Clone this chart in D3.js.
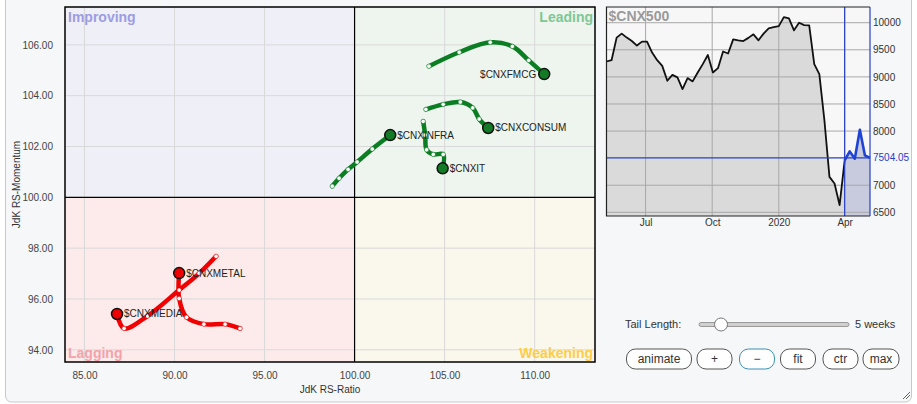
<!DOCTYPE html>
<html><head><meta charset="utf-8">
<script src="https://cdn.jsdelivr.net/npm/d3@7"></script>
<style>
html,body{margin:0;padding:0;background:#fff;}
svg{display:block;font-family:"Liberation Sans",Arial,sans-serif;}
</style></head>
<body>
<svg id="c" width="917" height="404"></svg>
<script>
// ---------- DATA ----------
const xTicks = [85, 90, 95, 100, 105, 110];
const yTicks = [94, 96, 98, 100, 102, 104, 106];
const quadrantNames = ["Improving", "Leading", "Lagging", "Weakening"];

const symbols = ["$CNXFMCG", "$CNXCONSUM", "$CNXINFRA", "$CNXIT", "$CNXMETAL", "$CNXMEDIA"];
const symbolColors = ["green", "green", "green", "green", "red", "red"];
const fmcgRatio = [104.13, 105.81, 107.53, 108.76, 109.67, 110.53];
const fmcgMom   = [105.16, 105.71, 106.10, 105.94, 105.39, 104.85];
const consumRatio = [103.96, 104.92, 105.87, 106.56, 106.92, 107.42];
const consumMom   = [103.46, 103.66, 103.75, 103.52, 103.08, 102.73];
const infraRatio = [98.76, 99.14, 99.64, 100.14, 100.98, 101.98];
const infraMom   = [100.44, 100.75, 101.10, 101.39, 101.90, 102.45];
const itRatio = [103.81, 103.92, 104.00, 104.37, 104.92, 104.89];
const itMom   = [102.99, 102.45, 101.87, 101.69, 101.69, 101.14];
const metalRatio = [93.64, 92.81, 91.63, 90.67, 90.26, 90.26];
const metalMom   = [94.84, 95.01, 95.01, 95.28, 96.02, 97.02];
const mediaRatio = [92.31, 91.37, 90.26, 88.50, 87.20, 86.81];
const mediaMom   = [97.68, 97.01, 96.35, 95.33, 94.84, 95.41];

const benchName = "$CNX500";
const benchStart = "2019-05-08";
const benchValues = [9284, 9308, 9725, 9798, 9725, 9662, 9578, 9651, 9651, 9449,
  9308, 9203, 8928, 9038, 8990, 8776, 8978, 8917, 9082, 9235,
  9405, 9082, 9161, 9468, 9431, 9693, 9675, 9662, 9720, 9785,
  9675, 9798, 9895, 9919, 9938, 10103, 10079, 9859, 10000, 9956,
  9950, 9235, 9051, 8200, 7155, 7032, 6634, 7460, 7625, 7490,
  8023, 7551, 7504.05];
const benchYTicks = [6500, 7000, 8000, 8500, 9000, 9500, 10000];
const benchXTickDates = ["2019-07-01", "2019-10-01", "2020-01-01", "2020-04-01"];
const benchXTickLabels = ["Jul", "Oct", "2020", "Apr"];
const tailWeeks = 5;
const buttonLabels = ["animate", "+", "\u2212", "fit", "ctr", "max"];

// ---------- DRAW ----------
const svg = d3.select("#c");
const series = [
  [fmcgRatio, fmcgMom], [consumRatio, consumMom], [infraRatio, infraMom],
  [itRatio, itMom], [metalRatio, metalMom], [mediaRatio, mediaMom]
].map((p, i) => ({name: symbols[i], color: symbolColors[i],
  pts: p[0].map((v, j) => ({x: v, y: p[1][j]}))}));

// panel
svg.append("rect").attr("x", 5.5).attr("y", -6).attr("width", 906).attr("height", 408)
  .attr("rx", 6).attr("fill", "#f5f7f9").attr("stroke", "#c8c8c8");

const L = 65, R = 595, T = 7, B = 362;
const x = d3.scaleLinear().domain([83.92, 113.35]).range([L, R]);
const y = d3.scaleLinear().domain([107.49, 93.52]).range([T, B]);

const qFill = {Improving: "#efeff8", Leading: "#edf5ee", Lagging: "#fdebeb", Weakening: "#faf7ed"};
const qText = {Improving: "#9c9ce3", Leading: "#7fc795", Lagging: "#f4a2aa", Weakening: "#ffcd45"};
const quads = [
  {n: quadrantNames[0], x0: x.domain()[0], x1: 100, y0: 100, y1: y.domain()[0]},
  {n: quadrantNames[1], x0: 100, x1: x.domain()[1], y0: 100, y1: y.domain()[0]},
  {n: quadrantNames[2], x0: x.domain()[0], x1: 100, y0: y.domain()[1], y1: 100},
  {n: quadrantNames[3], x0: 100, x1: x.domain()[1], y0: y.domain()[1], y1: 100}
];
svg.selectAll("rect.q").data(quads).join("rect").attr("class", "q")
  .attr("x", d => x(d.x0)).attr("y", d => y(d.y1))
  .attr("width", d => x(d.x1) - x(d.x0)).attr("height", d => y(d.y0) - y(d.y1))
  .attr("fill", d => qFill[d.n]);

// grid
svg.selectAll("line.gx").data(xTicks.filter(t => t !== 100)).join("line")
  .attr("x1", d => x(d)).attr("x2", d => x(d)).attr("y1", T).attr("y2", B)
  .attr("stroke", "#d9d9d9").attr("stroke-width", 1);
svg.selectAll("line.gy").data(yTicks.filter(t => t !== 100)).join("line")
  .attr("y1", d => y(d)).attr("y2", d => y(d)).attr("x1", L).attr("x2", R)
  .attr("stroke", "#d9d9d9").attr("stroke-width", 1);
svg.append("line").attr("x1", x(100)).attr("x2", x(100)).attr("y1", T).attr("y2", B).attr("stroke", "#000").attr("stroke-width", 1.2);
svg.append("line").attr("y1", y(100)).attr("y2", y(100)).attr("x1", L).attr("x2", R).attr("stroke", "#000").attr("stroke-width", 1.2);
svg.append("rect").attr("x", L).attr("y", T).attr("width", R - L).attr("height", B - T)
  .attr("fill", "none").attr("stroke", "#000").attr("stroke-width", 1.5);

// quadrant labels
const qpos = {Improving: [L + 3, T + 15, "start"], Leading: [R - 2, T + 15, "end"],
  Lagging: [L + 3, B - 4, "start"], Weakening: [R - 2, B - 4, "end"]};
quadrantNames.forEach(n => {
  svg.append("text").attr("x", qpos[n][0]).attr("y", qpos[n][1]).attr("text-anchor", qpos[n][2])
    .attr("font-size", 14).attr("font-weight", "bold").attr("fill", qText[n]).text(n);
});

// axes
const xAxis = d3.axisBottom(x).tickValues(xTicks).tickFormat(d3.format(".2f")).tickSize(0).tickPadding(10);
const gx = svg.append("g").attr("transform", `translate(0,${B})`).call(xAxis);
gx.select(".domain").remove();
gx.selectAll("text").attr("font-size", 10).attr("fill", "#444").attr("font-family", "Liberation Sans, Arial");
const yAxis = d3.axisLeft(y).tickValues(yTicks).tickFormat(d3.format(".2f")).tickSize(0).tickPadding(12);
const gy = svg.append("g").attr("transform", `translate(${L},0)`).call(yAxis);
gy.select(".domain").remove();
gy.selectAll("text").attr("font-size", 10).attr("fill", "#444").attr("font-family", "Liberation Sans, Arial");
svg.append("text").attr("x", (L + R) / 2).attr("y", 393).attr("text-anchor", "middle")
  .attr("font-size", 10).attr("fill", "#333").text("JdK RS-Ratio");
svg.append("text").attr("transform", `translate(20,${(T + B) / 2}) rotate(-90)`).attr("text-anchor", "middle")
  .attr("font-size", 10).attr("fill", "#333").text("JdK RS-Momentum");

// tails
const colMap = {green: {line: "#0b7d22", head: "#137a26", dot: "#0b7d22"}, red: {line: "#f00000", head: "#ee0000", dot: "#e00000"}};
const lineGen = d3.line().x(d => x(d.x)).y(d => y(d.y)).curve(d3.curveCatmullRom.alpha(0.5));
series.forEach(s => {
  svg.append("path").attr("d", lineGen(s.pts)).attr("fill", "none")
    .attr("stroke", colMap[s.color].line).attr("stroke-width", 4.5).attr("stroke-linecap", "round").attr("stroke-linejoin", "round");
});
series.forEach(s => {
  svg.selectAll(null).data(s.pts.slice(0, -1)).join("circle")
    .attr("cx", d => x(d.x)).attr("cy", d => y(d.y)).attr("r", 2.2)
    .attr("fill", "#fff").attr("stroke", colMap[s.color].dot).attr("stroke-width", 0.6);
});
series.forEach(s => {
  const h = s.pts[s.pts.length - 1];
  svg.append("circle").attr("cx", x(h.x)).attr("cy", y(h.y)).attr("r", 5.5)
    .attr("fill", colMap[s.color].head).attr("stroke", "#111").attr("stroke-width", 1.5);
});
series.forEach(s => {
  const h = s.pts[s.pts.length - 1];
  const left = s.name === "$CNXFMCG";
  svg.append("text").attr("x", x(h.x) + (left ? -8 : 7)).attr("y", y(h.y) + 3.5)
    .attr("text-anchor", left ? "end" : "start").attr("font-size", 10).attr("fill", "#222").text(s.name);
});

// ---------- inset benchmark ----------
const parse = d3.timeParse("%Y-%m-%d");
const d0 = parse(benchStart);
const bench = benchValues.map((v, i) => ({d: d3.timeDay.offset(d0, 7 * i), v}));
const IL = 606.5, IR = 870, IT = 7, IB = 216;
const bx = d3.scaleTime().domain([bench[0].d, bench[bench.length - 1].d]).range([IL, IR]);
const by = d3.scaleLinear().domain([6432, 10290]).range([IB, IT]);
svg.append("rect").attr("x", IL).attr("y", IT).attr("width", IR - IL).attr("height", IB - IT).attr("fill", "#f7f7f7");
const tailStart = bench.length - 1 - tailWeeks;
const area = d3.area().x(d => bx(d.d)).y0(IB).y1(d => by(d.v));
svg.append("path").attr("d", area(bench.slice(0, tailStart + 1))).attr("fill", "#dadada");
svg.append("path").attr("d", area(bench.slice(tailStart))).attr("fill", "#c8cbdd");
// grid
svg.selectAll("line.bgy").data(benchYTicks).join("line")
  .attr("x1", IL).attr("x2", IR).attr("y1", d => by(d)).attr("y2", d => by(d))
  .attr("stroke", "#a8a8a8").attr("stroke-width", 1);
const tickDates = benchXTickDates.map(parse);
svg.selectAll("line.bgx").data(tickDates).join("line")
  .attr("x1", d => bx(d)).attr("x2", d => bx(d)).attr("y1", IT).attr("y2", IB)
  .attr("stroke", "#a8a8a8").attr("stroke-width", 1);
const bline = d3.line().x(d => bx(d.d)).y(d => by(d.v));
svg.append("path").attr("d", bline(bench.slice(0, tailStart + 1))).attr("fill", "none").attr("stroke", "#111").attr("stroke-width", 1.8).attr("stroke-linejoin", "round");
svg.append("path").attr("d", bline(bench.slice(tailStart))).attr("fill", "none").attr("stroke", "#1f43d6").attr("stroke-width", 2.6).attr("stroke-linejoin", "round");
const last = bench[bench.length - 1];
svg.append("line").attr("x1", IL).attr("x2", IR).attr("y1", by(last.v)).attr("y2", by(last.v)).attr("stroke", "#2740c4").attr("stroke-width", 1.2);
svg.append("line").attr("x1", bx(bench[tailStart].d)).attr("x2", bx(bench[tailStart].d)).attr("y1", IT).attr("y2", IB).attr("stroke", "#2740c4").attr("stroke-width", 1.2);
// borders
svg.append("path").attr("d", `M${IR},${IT}H${IL}V${IB}H${IR}`).attr("fill", "none").attr("stroke", "#222").attr("stroke-width", 1.2);
svg.append("line").attr("x1", IR).attr("x2", IR).attr("y1", IT).attr("y2", IB).attr("stroke", "#2740c4").attr("stroke-width", 1.2);
svg.append("text").attr("x", IL + 2).attr("y", IT + 14).attr("font-size", 14).attr("font-weight", "bold").attr("fill", "#9a9a9a").text(benchName);
// axis labels
const byAxis = d3.axisRight(by).tickValues(benchYTicks).tickFormat(d3.format("d")).tickSize(0).tickPadding(3);
const gby = svg.append("g").attr("transform", `translate(${IR},0)`).call(byAxis);
gby.select(".domain").remove();
gby.selectAll("text").attr("font-size", 10).attr("fill", "#333").attr("font-family", "Liberation Sans, Arial");
svg.append("text").attr("x", IR + 3).attr("y", by(last.v) + 3.5).attr("font-size", 10).attr("fill", "#2740c4").text(d3.format(".2f")(last.v));
const bxAxis = d3.axisBottom(bx).tickValues(tickDates).tickFormat((d, i) => benchXTickLabels[i]).tickSize(0).tickPadding(3);
const gbx = svg.append("g").attr("transform", `translate(0,${IB})`).call(bxAxis);
gbx.select(".domain").remove();
gbx.selectAll("text").attr("font-size", 10).attr("fill", "#333").attr("font-family", "Liberation Sans, Arial");

// ---------- controls ----------
svg.append("text").attr("x", 625).attr("y", 328).attr("font-size", 11).attr("fill", "#333").text("Tail Length:");
svg.append("rect").attr("x", 699).attr("y", 322.5).attr("width", 150).attr("height", 4).attr("rx", 2)
  .attr("fill", "#d0d0d0").attr("stroke", "#888").attr("stroke-width", 0.8);
svg.append("circle").attr("cx", 721).attr("cy", 324.5).attr("r", 6.5).attr("fill", "#fff").attr("stroke", "#777").attr("stroke-width", 1);
svg.append("text").attr("x", 855).attr("y", 328).attr("font-size", 11).attr("fill", "#333").text(tailWeeks + " weeks");
const btnX = [626.5, 697, 739.5, 780.5, 823, 863];
const btnW = [65, 35, 35, 35, 35, 36];
buttonLabels.forEach((b, i) => {
  svg.append("rect").attr("x", btnX[i]).attr("y", 349).attr("width", btnW[i]).attr("height", 20).attr("rx", 9)
    .attr("fill", "#fff").attr("stroke", i === 2 ? "#3a8fb5" : "#555").attr("stroke-width", 1);
  svg.append("text").attr("x", btnX[i] + btnW[i] / 2).attr("y", 363).attr("text-anchor", "middle")
    .attr("font-size", 12).attr("fill", "#333").text(b);
});
// resize grip
[[903, 399, 910, 392], [906, 399, 910, 395]].forEach(l => svg.append("line")
  .attr("x1", l[0]).attr("y1", l[1]).attr("x2", l[2]).attr("y2", l[3]).attr("stroke", "#666").attr("stroke-width", 1));
</script>
</body></html>
